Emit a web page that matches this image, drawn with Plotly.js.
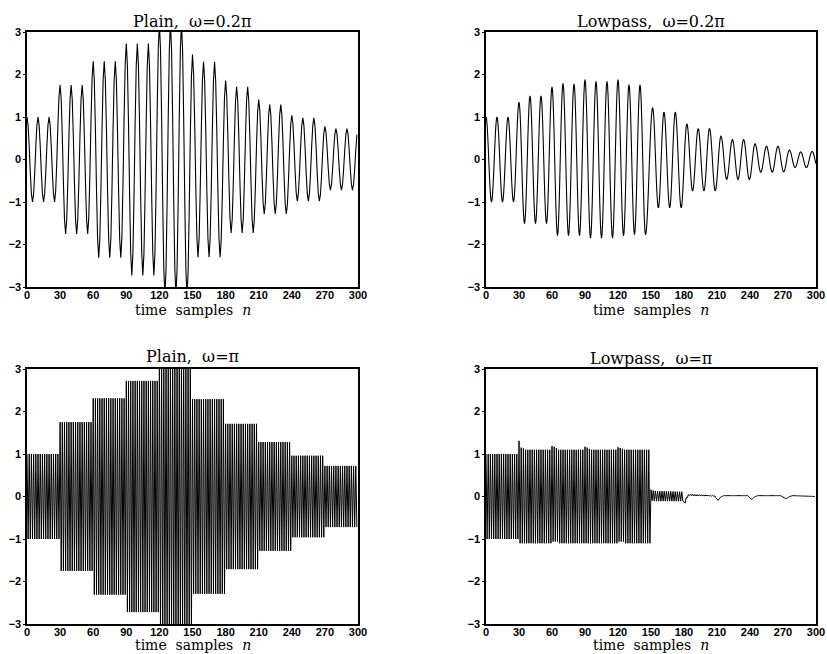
<!DOCTYPE html>
<html><head><meta charset="utf-8">
<script src="https://cdn.plot.ly/plotly-3.0.1.min.js"></script>
<style>html,body{margin:0;padding:0;background:#fff}#chart{width:827px;height:654px}</style>
</head><body><div id="chart"></div>
<script>
// ---------------- data ----------------
const xTickVals = [0, 30, 60, 90, 120, 150, 180, 210, 240, 270, 300];
const yTickVals = [-3, -2, -1, 0, 1, 2, 3];
const panelTitles = ['Plain,\u00a0\u00a0\u03c9=0.2\u03c0', 'Lowpass,\u00a0\u00a0\u03c9=0.2\u03c0',
                     'Plain,\u00a0\u00a0\u03c9=\u03c0', 'Lowpass,\u00a0\u00a0\u03c9=\u03c0'];
const xTitle = 'time\u00a0 samples\u00a0 <i>n</i>';

// Plain, w=0.2pi : peak values at n = 0,10,...,300 and trough magnitudes at n = 5,15,...,295
const plainSlowPeaks = [1.0, 1.0, 1.0, 1.75, 1.75, 1.75, 2.31, 2.31, 2.31, 2.73, 2.73, 2.73,
                        3.2, 3.2, 3.2, 2.47, 2.30, 2.30, 1.86, 1.71, 1.71, 1.41, 1.29, 1.29,
                        1.04, 0.98, 0.98, 0.78, 0.73, 0.73, 0.72];
const plainSlowTroughs = [1.0, 1.0, 1.0, 1.75, 1.75, 1.75, 2.31, 2.31, 2.31, 2.73, 2.73, 2.73,
                          3.2, 3.2, 3.2, 2.30, 2.30, 2.30, 1.73, 1.73, 1.73, 1.28, 1.28, 1.28,
                          0.98, 0.98, 0.98, 0.72, 0.72, 0.72];

// Lowpass, w=0.2pi : extremum positions and values
const lpSlowPeakTimes = [0, 10, 20, 30, 40, 50, 60, 70, 80, 90, 100, 110, 120, 130, 140,
                         151.5, 161.8, 172.1, 182.6, 192.9, 203.2, 213.6, 224.0, 234.2, 244.6, 255.0, 265.4, 275.8, 286.1, 296.5];
const lpSlowPeaks = [1.0, 1.0, 1.0, 1.35, 1.5, 1.5, 1.71, 1.79, 1.78, 1.88, 1.84, 1.84, 1.88, 1.76, 1.76,
                     1.22, 1.12, 1.12, 0.84, 0.73, 0.73, 0.55, 0.47, 0.47, 0.37, 0.31, 0.31, 0.22, 0.18, 0.19];
const lpSlowTroughTimes = [5, 15, 25, 35, 45, 55, 65, 75, 85, 95, 105, 115, 125, 135, 145,
                           156.7, 167.0, 177.4, 187.8, 198.1, 208.4, 218.8, 229.1, 239.4, 249.8, 260.2, 270.6, 281.0, 291.3, 301.6];
const lpSlowTroughs = [-1.0, -1.0, -1.0, -1.51, -1.51, -1.51, -1.79, -1.79, -1.79, -1.85, -1.85, -1.85, -1.80, -1.77, -1.77,
                       -1.14, -1.14, -1.14, -0.74, -0.74, -0.74, -0.47, -0.47, -0.47, -0.30, -0.30, -0.29, -0.19, -0.19, -0.19];

// Plain, w=pi : block envelope (blocks of 30 samples)
const blockStarts = [0, 30, 60, 90, 120, 150, 180, 210, 240, 270];
const plainFastAmp = [1.0, 1.75, 2.31, 2.72, 3.3, 2.29, 1.71, 1.28, 0.96, 0.72];

// Lowpass, w=pi : envelope for n < 150
const lpFastBlockStarts = [0, 30, 60, 90, 120];
const lpFastTops = [1.0, 1.1, 1.1, 1.1, 1.1];
const lpFastBottoms = [-1.0, -1.1, -1.1, -1.1, -1.1];
const lpFastSpikeStarts = [30, 60, 90, 120];
const lpFastSpike1 = [1.31, 1.19, 1.17, 1.16];
const lpFastSpike2 = [1.15, 1.17, 1.15, 1.14];
const lpFastSpike3 = [1.13, 1.14, 1.12, 1.12];
const lpFastBottomEase = [-1.1, -1.06, -1.1, -1.06];
// Lowpass, w=pi : residual for n >= 150 (slow part and alternating part)
const lpFastBaseKnotN = [150, 154, 179, 180, 181, 183, 185, 190, 205, 208, 210, 211, 213, 216, 238, 240, 241.5, 244, 247, 268, 271, 273, 276, 279, 300];
const lpFastBaseKnotV = [0.03, 0.01, 0.0, -0.17, -0.12, 0.0, 0.04, 0.03, 0.02, 0.01, -0.06, -0.09, -0.02, 0.02, 0.02, -0.04, -0.07, -0.01, 0.02, 0.02, -0.03, -0.05, 0.0, 0.02, 0.0];
const lpFastAltKnotN = [150, 152, 179, 180, 185, 205, 210, 300];
const lpFastAltKnotV = [0.13, 0.12, 0.11, 0.04, 0.02, 0.012, 0.0, 0.0];

// ---------------- helpers to build the traces ----------------
function range(a, b, step) { const r = []; for (let v = a; v <= b + 1e-9; v += step) r.push(+v.toFixed(4)); return r; }
function halfCos(times, vals, xs) {
  let k = 0;
  return xs.map(x => {
    while (k < times.length - 2 && x > times[k + 1]) k++;
    const t0 = times[k], t1 = times[k + 1];
    const c = Math.cos(Math.PI * Math.min(1, Math.max(0, (x - t0) / (t1 - t0))));
    return vals[k] * (1 + c) / 2 + vals[k + 1] * (1 - c) / 2;
  });
}
function lin(kn, kv, x) {
  if (x <= kn[0]) return kv[0];
  for (let i = 0; i < kn.length - 1; i++) {
    if (x <= kn[i + 1]) return kv[i] + (kv[i + 1] - kv[i]) * (x - kn[i]) / (kn[i + 1] - kn[i]);
  }
  return kv[kv.length - 1];
}
function blockIndex(starts, n) { let b = 0; for (let i = 0; i < starts.length; i++) if (n >= starts[i]) b = i; return b; }

// panel 1 extrema
const p1Times = [], p1Vals = [];
for (let i = 0; i < plainSlowPeaks.length; i++) {
  p1Times.push(10 * i); p1Vals.push(plainSlowPeaks[i]);
  if (i < plainSlowTroughs.length) { p1Times.push(10 * i + 5); p1Vals.push(-plainSlowTroughs[i]); }
}
const nInt = range(0, 299, 1);
const y1 = halfCos(p1Times, p1Vals, nInt);

// panel 2 extrema
const p2Times = [], p2Vals = [];
for (let i = 0; i < lpSlowPeaks.length; i++) {
  p2Times.push(lpSlowPeakTimes[i]); p2Vals.push(lpSlowPeaks[i]);
  p2Times.push(lpSlowTroughTimes[i]); p2Vals.push(lpSlowTroughs[i]);
}
const nFine = range(0, 300, 0.5);
const y2 = halfCos(p2Times, p2Vals, nFine);

// panel 3
const y3 = nInt.map(n => (n % 2 === 0 ? 1 : -1) * plainFastAmp[blockIndex(blockStarts, n)]);

// panel 4
const y4 = nInt.map(n => {
  if (n < 150) {
    const b = blockIndex(lpFastBlockStarts, n);
    const s = lpFastSpikeStarts.indexOf(lpFastBlockStarts[b]);
    if (n % 2 === 0) {
      let v = lpFastTops[b];
      if (s >= 0) {
        const off = n - lpFastSpikeStarts[s];
        if (off === 0) v = lpFastSpike1[s]; else if (off === 2) v = lpFastSpike2[s]; else if (off === 4) v = lpFastSpike3[s];
      }
      return v;
    } else {
      let v = lpFastBottoms[b];
      if (s >= 0 && n - lpFastSpikeStarts[s] < 6) v = lpFastBottomEase[s];
      return v;
    }
  }
  return lin(lpFastBaseKnotN, lpFastBaseKnotV, n) + (n % 2 === 0 ? 1 : -1) * lin(lpFastAltKnotN, lpFastAltKnotV, n);
});

// ---------------- plot ----------------
const W = 827, H = 654;
const xDom = [[27 / W, 358 / W], [486 / W, 816 / W]];
const yDom = [[1 - 287 / H, 1 - 32 / H], [1 - 624 / H, 1 - 369 / H]];
const lineStyle = {color: '#000', width: 1.1, simplify: false};

const data = [
  {x: nInt, y: y1, xaxis: 'x', yaxis: 'y', mode: 'lines', line: lineStyle},
  {x: nFine, y: y2, xaxis: 'x2', yaxis: 'y2', mode: 'lines', line: lineStyle},
  {x: nInt, y: y3, xaxis: 'x3', yaxis: 'y3', mode: 'lines', line: {color: '#000', width: 1, simplify: false}},
  {x: nInt, y: y4, xaxis: 'x4', yaxis: 'y4', mode: 'lines', line: {color: '#000', width: 1, simplify: false}}
];

const tickFont = {family: 'Liberation Sans, Arial, sans-serif', size: 11, color: '#000', weight: 'bold'};
const serif = 'DejaVu Serif, Liberation Serif, serif';
function xa(dom, anchor) {
  return {domain: dom, anchor: anchor, range: [0, 300], tickvals: xTickVals, ticktext: xTickVals.map(String),
    showline: true, mirror: true, linewidth: 1.6, linecolor: '#000', showgrid: false, zeroline: false,
    ticks: '', ticklabelstandoff: -3, tickfont: tickFont, fixedrange: true};
}
function ya(dom, anchor) {
  return {domain: dom, anchor: anchor, range: [-3, 3], tickvals: yTickVals, ticktext: yTickVals.map(v => v < 0 ? '\u2212' + Math.abs(v) : String(v)),
    showline: true, mirror: true, linewidth: 1.6, linecolor: '#000', showgrid: false, zeroline: false,
    ticks: 'outside', ticklen: 2, tickcolor: '#000', tickfont: tickFont, fixedrange: true};
}
const titleAnn = [[0, 21], [1, 21], [0, 357], [1, 358]].map((p, i) => ({
  text: panelTitles[i], xref: 'paper', yref: 'paper', showarrow: false,
  x: (xDom[p[0]][0] + xDom[p[0]][1]) / 2, y: 1 - p[1] / H, xanchor: 'center', yanchor: 'middle',
  font: {family: serif, size: 16, color: '#000'}
}));
const xTitleAnn = [[0, 310], [1, 310], [0, 645], [1, 645]].map(p => ({
  text: xTitle, xref: 'paper', yref: 'paper', showarrow: false,
  x: (xDom[p[0]][0] + xDom[p[0]][1]) / 2, y: 1 - p[1] / H, xanchor: 'center', yanchor: 'middle',
  font: {family: serif, size: 14, color: '#000'}
}));
const layout = {
  width: W, height: H, margin: {l: 0, r: 0, t: 0, b: 0}, paper_bgcolor: '#fff', plot_bgcolor: '#fff',
  showlegend: false, hovermode: false,
  xaxis: xa(xDom[0], 'y'), yaxis: ya(yDom[0], 'x'),
  xaxis2: xa(xDom[1], 'y2'), yaxis2: ya(yDom[0], 'x2'),
  xaxis3: xa(xDom[0], 'y3'), yaxis3: ya(yDom[1], 'x3'),
  xaxis4: xa(xDom[1], 'y4'), yaxis4: ya(yDom[1], 'x4'),
  annotations: titleAnn.concat(xTitleAnn)
};
Plotly.newPlot('chart', data, layout, {staticPlot: true, displayModeBar: false});
</script></body></html>
